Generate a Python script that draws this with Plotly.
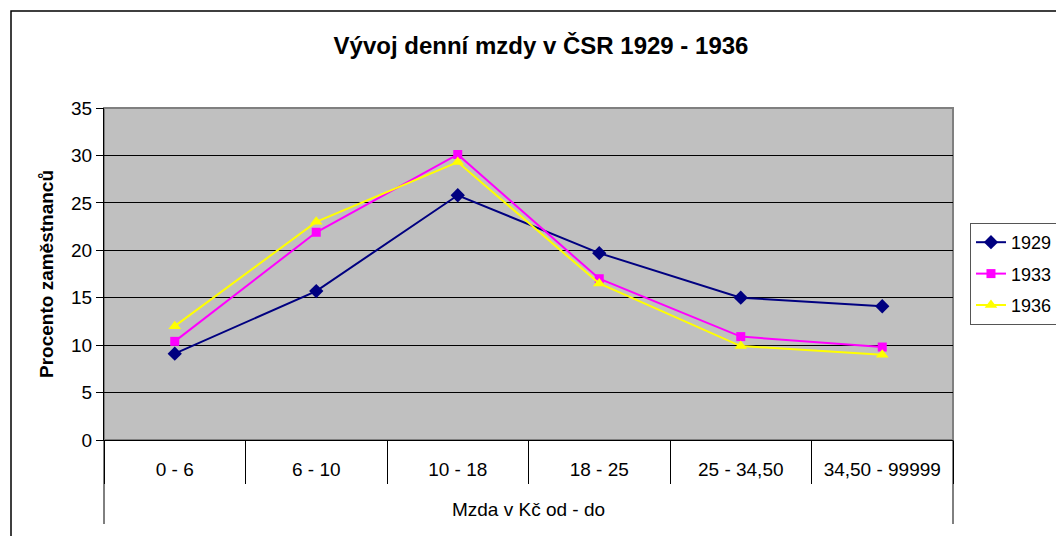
import plotly.graph_objects as go

categories = ["0 - 6", "6 - 10", "10 - 18", "18 - 25", "25 - 34,50", "34,50 - 99999"]
v1929 = [9.1, 15.7, 25.8, 19.7, 15.0, 14.1]
v1933 = [10.4, 21.9, 30.1, 17.0, 10.9, 9.8]
v1936 = [12.0, 23.0, 29.3, 16.5, 9.9, 9.0]
series_names = ["1929", "1933", "1936"]

fig = go.Figure()
styles = [
    dict(color="#000080", symbol="diamond", size=11),
    dict(color="#FF00FF", symbol="square", size=9),
    dict(color="#FFFF00", symbol="triangle-up", size=11),
]
for name, vals, st in zip(series_names, [v1929, v1933, v1936], styles):
    fig.add_trace(go.Scatter(
        x=categories, y=vals, name=name, mode="lines+markers", legendgroup=name,
        line=dict(color=st["color"], width=2),
        marker=dict(color=st["color"], symbol=st["symbol"], size=st["size"]),
    ))

font_family = "Liberation Sans, Arial, sans-serif"
fig.update_layout(
    width=1056, height=528,
    paper_bgcolor="white", plot_bgcolor="#C0C0C0",
    margin=dict(l=96, r=111, t=100, b=96, autoexpand=False),
    font=dict(family=font_family, size=19, color="black"),
    title=dict(text="<b>Vývoj denní mzdy v ČSR 1929 - 1936</b>", x=533/1056, xanchor="center",
               y=1 - 38/528, yanchor="middle", font=dict(size=24, family=font_family)),
    showlegend=True,
    legend=dict(x=1.02, xanchor="left", y=0.5, yanchor="middle",
                bordercolor="#555555", borderwidth=1, bgcolor="white",
                font=dict(size=18, family=font_family), itemwidth=30,
                traceorder="grouped", tracegroupgap=5),
)
fig.update_yaxes(
    range=[0, 35], dtick=5, showgrid=True, gridcolor="black", gridwidth=1,
    showline=True, linecolor="black", linewidth=1, ticks="outside", ticklen=7,
    tickcolor="black", zeroline=False,
    tickfont=dict(size=19),
    title=dict(text="<b>Procento zaměstnanců</b>", font=dict(size=19), standoff=12),
)
fig.update_xaxes(
    type="category", range=[-0.5, len(categories) - 0.5],
    showline=True, linecolor="black", linewidth=1,
    ticks="outside", tickson="boundaries", ticklen=43, tickcolor="black",
    ticklabelstandoff=12,
    tickfont=dict(size=19), showgrid=False,
    title=dict(text="Mzda v Kč od - do", font=dict(size=19), standoff=23),
)
# outer group dividers at both ends of the category axis
for edge in (0, 1):
    fig.add_shape(type="line", xref="x domain", yref="paper",
                  x0=edge, x1=edge, y0=0, y1=-84/332,
                  line=dict(color="black", width=1))
# chart area border (extends past the cropped right/bottom edges)
fig.add_shape(type="rect", xref="paper", yref="paper",
              x0=-93/849, x1=1.3, y0=-0.4, y1=429/332,
              line=dict(color="black", width=1.5), fillcolor="rgba(0,0,0,0)", layer="below")
# plot area outline
fig.add_shape(type="rect", xref="x domain", yref="y domain", x0=0, x1=1, y0=0, y1=1,
              line=dict(color="#808080", width=2), layer="below")

fig.write_html("out.html")
